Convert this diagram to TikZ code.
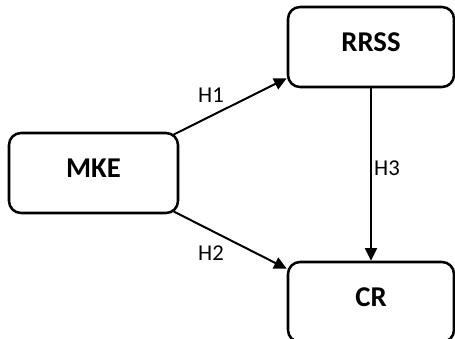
\documentclass[tikz,border=0pt]{standalone}
\usepackage{fontspec}
\setmainfont{Carlito}
\usetikzlibrary{arrows.meta}
\begin{document}
\begin{tikzpicture}[x=0.75pt,y=-0.75pt,
  box/.style={draw=black,line width=1.9pt,rounded corners=9pt,fill=white,
    inner sep=0pt,minimum height=60pt,text depth=7.5pt,font=\fontsize{21.5}{25}\selectfont\bfseries},
  conn/.style={line width=1.5pt,-{Triangle[length=9.5pt,width=9pt]}},
  lab/.style={font=\fontsize{17}{20}\selectfont,inner sep=0pt}]
\useasboundingbox (0,0) rectangle (455,339);
\clip (0,0) rectangle (455,339);
\node[box,minimum width=126.75pt] (mke) at (93.5,173) {MKE};
\node[box,minimum width=124.5pt] (rrss) at (371,47) {RRSS};
\node[box,minimum width=124.5pt] (cr) at (371,302) {CR};
\draw[conn] ([xshift=-4pt,yshift=-2pt]mke.north east) -- ([yshift=7.5pt]rrss.south west);
\draw[conn] ([xshift=-4pt,yshift=2pt]mke.south east) -- ([yshift=-6pt]cr.north west);
\draw[conn] (rrss.south) -- (cr.north);
\node[lab] (h1) at (211,95) {H1};
\node[lab] (h2) at (211,253) {H2};
\node[lab] (h3) at (387,168) {H3};
\end{tikzpicture}
\end{document}
